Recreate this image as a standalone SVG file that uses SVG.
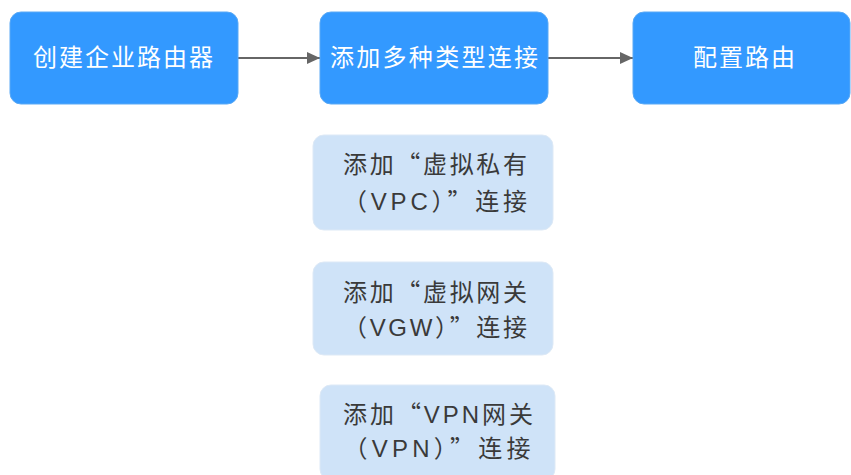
<svg xmlns="http://www.w3.org/2000/svg" width="851" height="475" viewBox="0 0 851 475">
<defs>
<style>
.main rect{fill:#3399ff;stroke:#5aa9f5;stroke-width:1}
.main text{fill:#ffffff;font-family:"Noto Sans CJK SC","Noto Sans",sans-serif;font-size:24px;text-anchor:middle}
.sub rect{fill:#cfe3f8;stroke:#dde9f6;stroke-width:1}
.sub text{fill:#3a3a3a;font-family:"Liberation Sans","Noto Sans CJK SC",sans-serif;font-size:24px;text-anchor:middle}
.q{font-family:"Noto Sans CJK SC",sans-serif}
.conn line{stroke:#666666;stroke-width:2}
</style>
<marker id="arr" viewBox="0 0 13 12" refX="13" refY="6" markerWidth="13" markerHeight="12" markerUnits="userSpaceOnUse" orient="auto">
<path d="M0,0 L13,6 L0,12 Z" fill="#666666"/>
</marker>
</defs>
<rect width="851" height="475" fill="#ffffff"/>
<g id="connectors" class="conn">
<line x1="238" y1="58" x2="320" y2="58" marker-end="url(#arr)"/>
<line x1="548" y1="58" x2="633" y2="58" marker-end="url(#arr)"/>
</g>
<g id="n1" class="main">
<rect x="10" y="12" width="228" height="92" rx="11"/>
<text x="123" y="66" textLength="180" lengthAdjust="spacing">创建企业路由器</text>
</g>
<g id="n2" class="main">
<rect x="320" y="12" width="228" height="92" rx="11"/>
<text x="434" y="66" textLength="208" lengthAdjust="spacing">添加多种类型连接</text>
</g>
<g id="n3" class="main">
<rect x="633" y="12" width="217" height="92" rx="11"/>
<text x="744" y="66" textLength="102" lengthAdjust="spacing">配置路由</text>
</g>
<g id="s1" class="sub">
<rect x="313" y="135" width="240" height="95" rx="11"/>
<text x="435" y="173" textLength="184" lengthAdjust="spacing">添加<tspan class="q">“</tspan>虚拟私有</text>
<text x="435" y="210" textLength="184" lengthAdjust="spacing">（VPC）<tspan class="q">”</tspan>连接</text>
</g>
<g id="s2" class="sub">
<rect x="313" y="262" width="240" height="93" rx="11"/>
<text x="435" y="301" textLength="184" lengthAdjust="spacing">添加<tspan class="q">“</tspan>虚拟网关</text>
<text x="435" y="336" textLength="184" lengthAdjust="spacing">（VGW）<tspan class="q">”</tspan>连接</text>
</g>
<g id="s3" class="sub">
<rect x="320" y="385" width="235" height="95" rx="11"/>
<text x="438" y="423" textLength="190" lengthAdjust="spacing">添加<tspan class="q">“</tspan>VPN网关</text>
<text x="437" y="457" textLength="187" lengthAdjust="spacing">（VPN）<tspan class="q">”</tspan>连接</text>
</g>
</svg>
